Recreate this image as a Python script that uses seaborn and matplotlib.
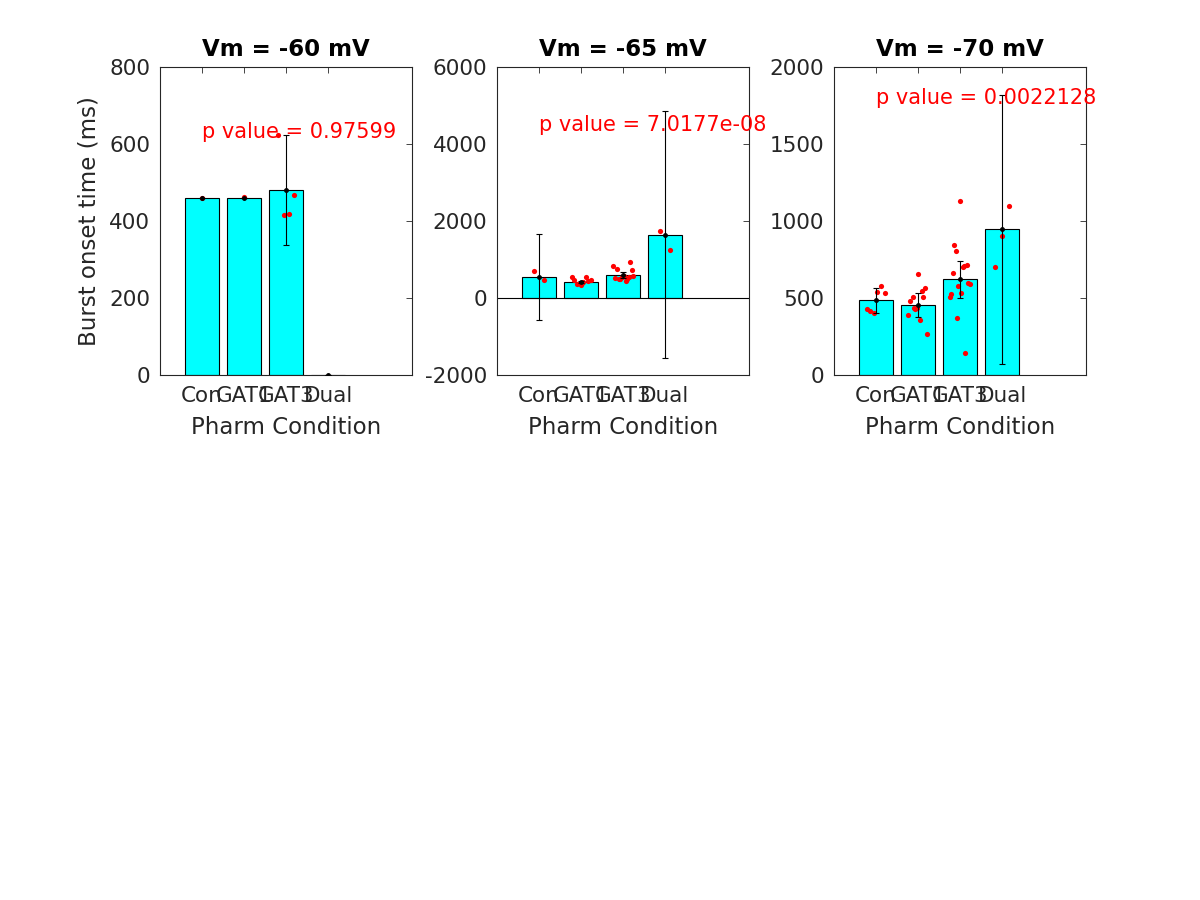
import numpy as np
import pandas as pd
import matplotlib
matplotlib.use('Agg')
import matplotlib.pyplot as plt
import seaborn as sns

conditions = ['Con', 'GAT1', 'GAT3', 'Dual']
positions = [1, 2, 3, 4]
titles = ['Vm = -60 mV', 'Vm = -65 mV', 'Vm = -70 mV']
p_texts = ['p value = 0.97599', 'p value = 7.0177e-08', 'p value = 0.0022128']
p_text_y = [631, 4494, 1799]

# bar heights (means) and error half-widths
means_60 = [461, 461, 480, 0]
err_60 = [0, 0, 143, 0]
means_65 = [545, 415, 597, 1644]
err_65 = [1125, 30, 90, 3215]
means_70 = [485, 452, 621, 946]
err_70 = [80, 78, 120, 872]

# individual cells: condition index, value, horizontal offset
pts_60_cond = [1, 2, 3, 3, 3, 3]
pts_60_val = [461, 462, 623, 468, 415, 417]
pts_60_off = [0.0, 0.01, -0.18, 0.19, -0.05, 0.07]

pts_65_cond = [1, 1,
               2, 2, 2, 2, 2, 2, 2, 2, 2,
               3, 3, 3, 3, 3, 3, 3, 3, 3, 3, 3, 3, 3,
               4, 4]
pts_65_val = [709, 457,
              535, 475, 364, 345, 405, 553, 431, 457, 382,
              839, 761, 925, 727, 527, 501, 535, 579, 449, 492, 535, 579, 492,
              1748, 1236]
pts_65_off = [-0.13, 0.13,
              -0.22, -0.17, -0.10, -0.01, 0.05, 0.11, 0.17, 0.23, 0.02,
              -0.23, -0.15, 0.17, 0.21, -0.19, -0.10, -0.03, 0.02, 0.06, 0.10, 0.14, 0.24, -0.06,
              -0.13, 0.13]

pts_70_cond = [1, 1, 1, 1, 1, 1,
               2, 2, 2, 2, 2, 2, 2, 2, 2, 2, 2, 2,
               3, 3, 3, 3, 3, 3, 3, 3, 3, 3, 3, 3, 3, 3, 3,
               4, 4, 4]
pts_70_val = [427, 416, 403, 537, 578, 535,
              656, 390, 478, 504, 435, 428, 359, 545, 509, 563, 266, 433,
              1132, 844, 805, 662, 703, 710, 712, 528, 509, 576, 532, 597, 593, 368, 145,
              1095, 905, 701]
pts_70_off = [-0.22, -0.14, -0.05, 0.03, 0.12, 0.21,
              -0.01, -0.23, -0.18, -0.13, -0.10, -0.06, 0.04, 0.09, 0.13, 0.17, 0.22, -0.02,
              -0.01, -0.14, -0.10, -0.17, 0.06, 0.10, 0.16, -0.21, -0.24, -0.04, 0.03, 0.20, 0.23, -0.07, 0.13,
              0.16, 0.0, -0.17]

ylims = [(0, 800), (-2000, 6000), (0, 2000)]
yticks = [np.arange(0, 801, 200), np.arange(-2000, 6001, 2000), np.arange(0, 2001, 500)]

panels = [
    (means_60, err_60, pts_60_cond, pts_60_val, pts_60_off),
    (means_65, err_65, pts_65_cond, pts_65_val, pts_65_off),
    (means_70, err_70, pts_70_cond, pts_70_val, pts_70_off),
]

sns.set_style('white')
plt.rcParams['font.family'] = ['DejaVu Sans']
plt.rcParams['axes.unicode_minus'] = False

fig = plt.figure(figsize=(12, 9), dpi=100)
lefts = [160 / 1200, 497 / 1200, 834 / 1200]
gray = '#262626'

for i, (means, errs, pc, pv, po) in enumerate(panels):
    ax = fig.add_axes([lefts[i], 525 / 900, 252 / 1200, 308 / 900])
    bars = pd.DataFrame({'pos': positions, 'mean': means})
    sns.barplot(data=bars, x='pos', y='mean', native_scale=True, color='#00FFFF',
                saturation=1, edgecolor='black', linewidth=0.8, errorbar=None, ax=ax)
    if ylims[i][0] < 0:
        ax.axhline(0, color='black', lw=0.8, zorder=1.5)
    pts = pd.DataFrame({'x': [positions[c - 1] + o for c, o in zip(pc, po)], 'y': pv})
    sns.scatterplot(data=pts, x='x', y='y', color='red', s=14, linewidth=0,
                    zorder=3, ax=ax)
    ax.errorbar(positions, means, yerr=errs, fmt='o', color='black', ms=2.5,
                lw=0.8, capsize=2, capthick=0.8, zorder=4)
    ax.text(1, p_text_y[i], p_texts[i], color='red', fontsize=15, va='center',
            ha='left', clip_on=False, zorder=5)

    ax.set_xlim(0, 6)
    ax.set_ylim(*ylims[i])
    ax.set_xticks(positions)
    ax.set_xticklabels(conditions)
    ax.set_yticks(yticks[i])
    ax.tick_params(direction='in', length=4, width=0.6, labelsize=15.5,
                   colors=gray, labelcolor=gray, top=True, right=True, pad=7)
    ax.tick_params(axis='x', pad=8)
    for s in ax.spines.values():
        s.set_visible(True)
        s.set_color(gray)
        s.set_linewidth(0.8)
    ax.set_xlabel('Pharm Condition', fontsize=16.5, color=gray, labelpad=7)
    if i == 0:
        ax.set_ylabel('Burst onset time (ms)', fontsize=16.5, color=gray, labelpad=6)
    else:
        ax.set_ylabel('')
    ax.set_title(titles[i], fontsize=16.5, fontweight='bold', color='black', pad=8)

fig.savefig('out.png', dpi=100)
